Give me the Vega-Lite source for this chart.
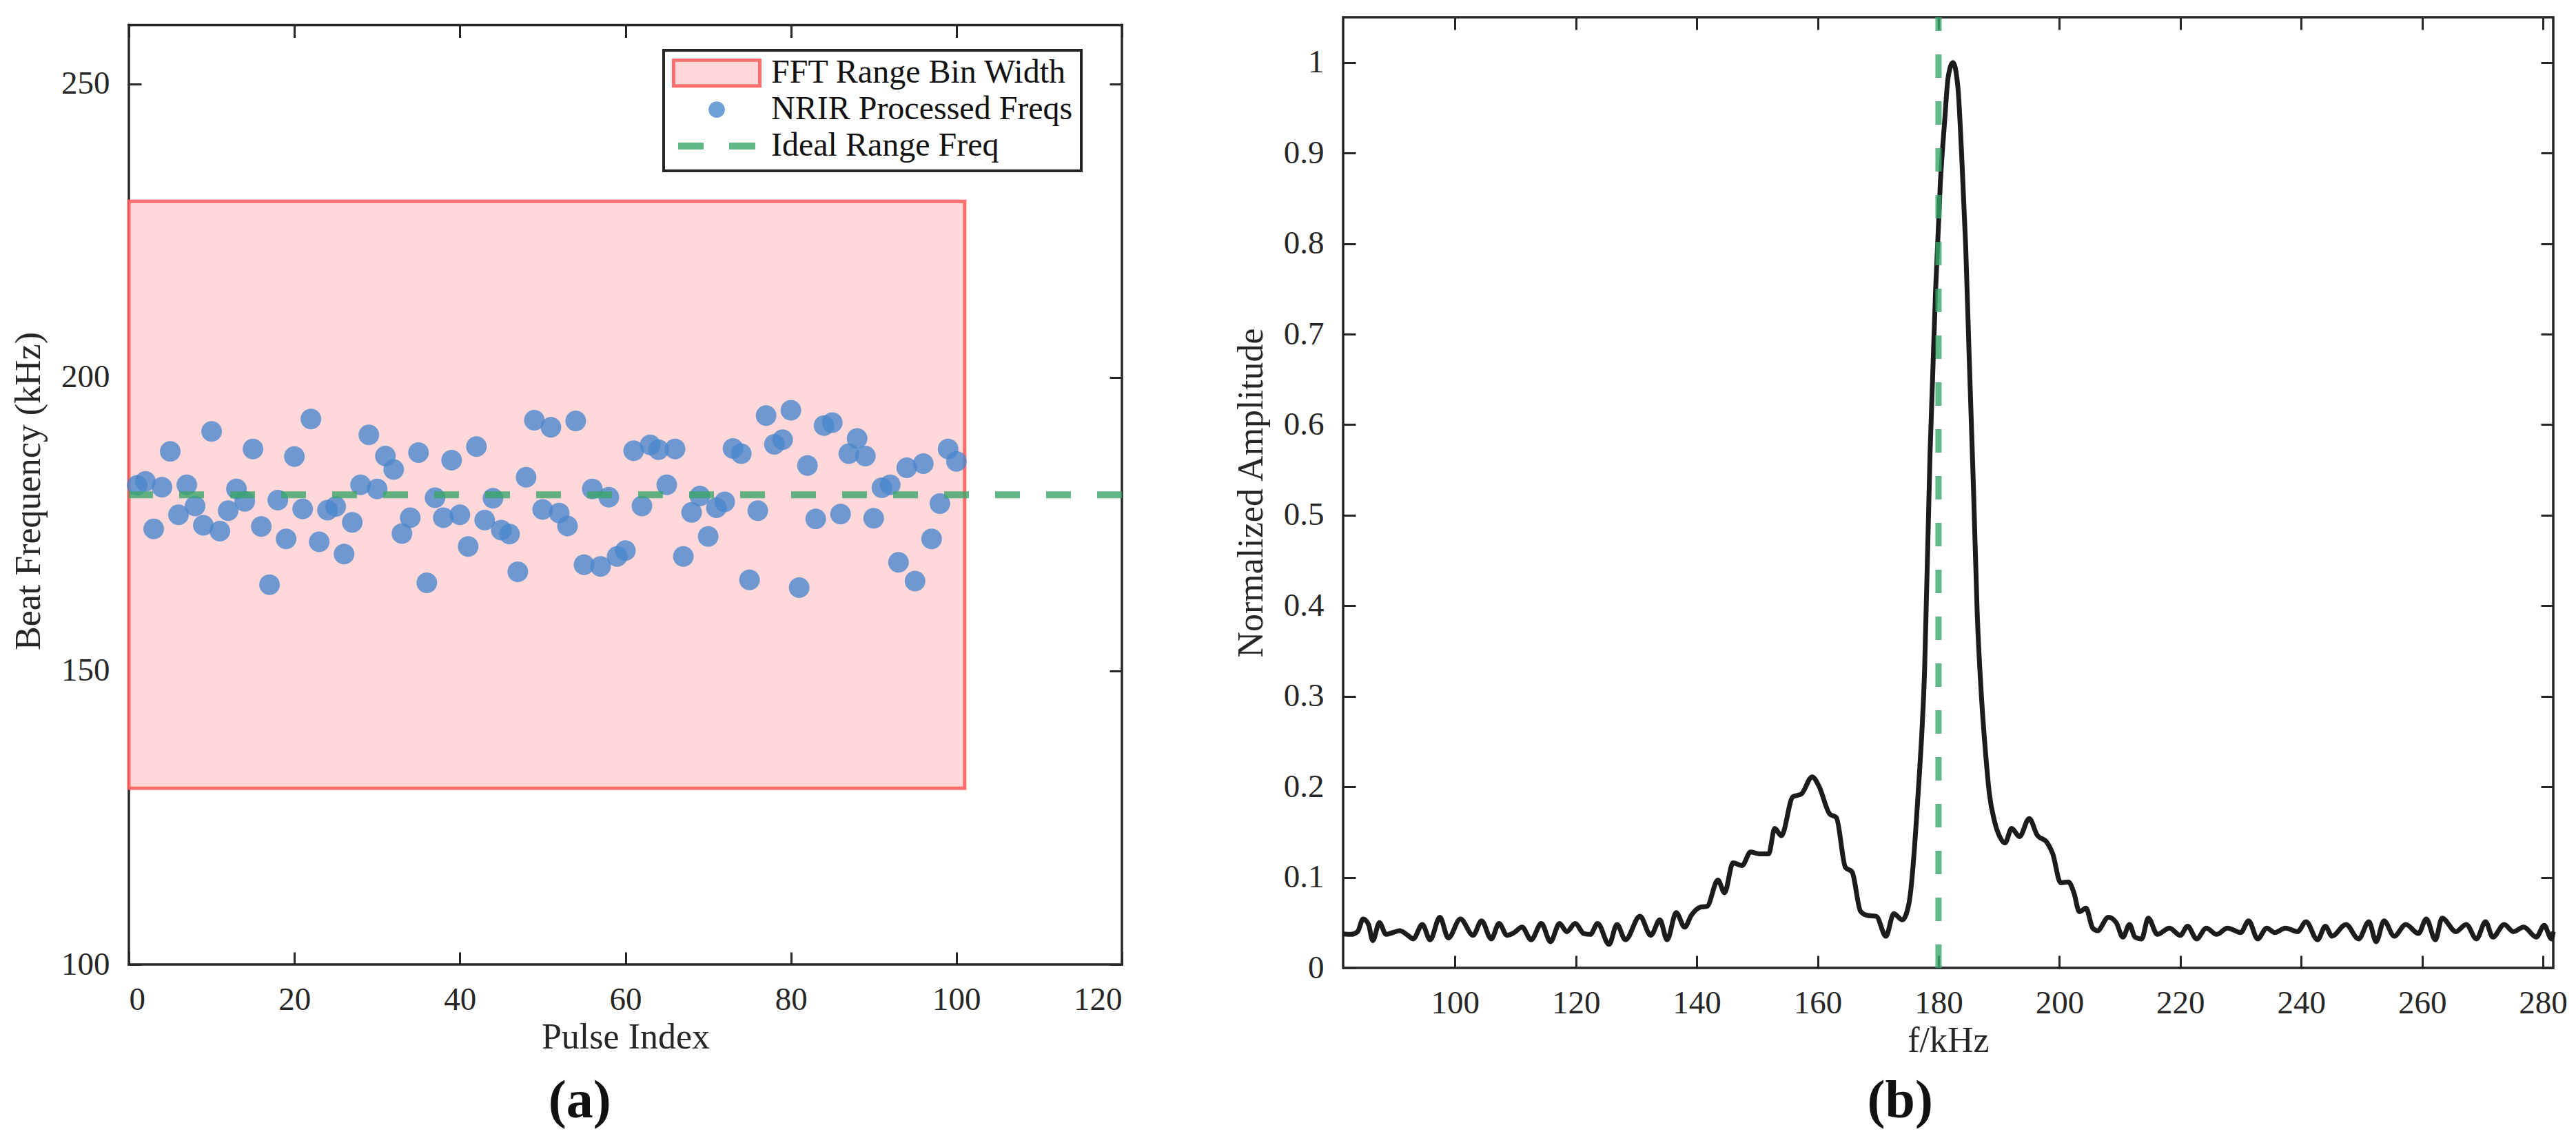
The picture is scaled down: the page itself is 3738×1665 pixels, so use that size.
{
  "$schema": "https://vega.github.io/schema/vega-lite/v6.json",
  "background": "white",
  "padding": {"left": 15, "top": 18, "right": 10, "bottom": 5},
  "spacing": 154,
  "datasets": {
    "pulses": [
      {"pulse": 1, "freq": 181.6}, {"pulse": 2, "freq": 182.3}, {"pulse": 3, "freq": 174.2}, {"pulse": 4, "freq": 181.3},
      {"pulse": 5, "freq": 187.4}, {"pulse": 6, "freq": 176.6}, {"pulse": 7, "freq": 181.7}, {"pulse": 8, "freq": 178.1},
      {"pulse": 9, "freq": 174.8}, {"pulse": 10, "freq": 190.8}, {"pulse": 11, "freq": 173.8}, {"pulse": 12, "freq": 177.3},
      {"pulse": 13, "freq": 181.0}, {"pulse": 14, "freq": 178.9}, {"pulse": 15, "freq": 187.8}, {"pulse": 16, "freq": 174.6},
      {"pulse": 17, "freq": 164.7}, {"pulse": 18, "freq": 179.1}, {"pulse": 19, "freq": 172.5}, {"pulse": 20, "freq": 186.5},
      {"pulse": 21, "freq": 177.6}, {"pulse": 22, "freq": 192.9}, {"pulse": 23, "freq": 172.0}, {"pulse": 24, "freq": 177.4},
      {"pulse": 25, "freq": 178.0}, {"pulse": 26, "freq": 169.9}, {"pulse": 27, "freq": 175.3}, {"pulse": 28, "freq": 181.7},
      {"pulse": 29, "freq": 190.2}, {"pulse": 30, "freq": 181.0}, {"pulse": 31, "freq": 186.6}, {"pulse": 32, "freq": 184.3},
      {"pulse": 33, "freq": 173.4}, {"pulse": 34, "freq": 176.1}, {"pulse": 35, "freq": 187.2}, {"pulse": 36, "freq": 165.0},
      {"pulse": 37, "freq": 179.5}, {"pulse": 38, "freq": 176.1}, {"pulse": 39, "freq": 185.9}, {"pulse": 40, "freq": 176.6},
      {"pulse": 41, "freq": 171.2}, {"pulse": 42, "freq": 188.2}, {"pulse": 43, "freq": 175.7}, {"pulse": 44, "freq": 179.4},
      {"pulse": 45, "freq": 174.0}, {"pulse": 46, "freq": 173.3}, {"pulse": 47, "freq": 166.9}, {"pulse": 48, "freq": 183.0},
      {"pulse": 49, "freq": 192.7}, {"pulse": 50, "freq": 177.5}, {"pulse": 51, "freq": 191.5}, {"pulse": 52, "freq": 176.9},
      {"pulse": 53, "freq": 174.7}, {"pulse": 54, "freq": 192.6}, {"pulse": 55, "freq": 168.1}, {"pulse": 56, "freq": 181.0},
      {"pulse": 57, "freq": 167.8}, {"pulse": 58, "freq": 179.6}, {"pulse": 59, "freq": 169.5}, {"pulse": 60, "freq": 170.5},
      {"pulse": 61, "freq": 187.5}, {"pulse": 62, "freq": 178.1}, {"pulse": 63, "freq": 188.5}, {"pulse": 64, "freq": 187.7},
      {"pulse": 65, "freq": 181.7}, {"pulse": 66, "freq": 187.8}, {"pulse": 67, "freq": 169.5}, {"pulse": 68, "freq": 177.0},
      {"pulse": 69, "freq": 179.8}, {"pulse": 70, "freq": 172.9}, {"pulse": 71, "freq": 177.8}, {"pulse": 72, "freq": 178.8},
      {"pulse": 73, "freq": 187.9}, {"pulse": 74, "freq": 187.0}, {"pulse": 75, "freq": 165.5}, {"pulse": 76, "freq": 177.3},
      {"pulse": 77, "freq": 193.5}, {"pulse": 78, "freq": 188.6}, {"pulse": 79, "freq": 189.4}, {"pulse": 80, "freq": 194.4},
      {"pulse": 81, "freq": 164.2}, {"pulse": 82, "freq": 185.0}, {"pulse": 83, "freq": 175.9}, {"pulse": 84, "freq": 191.8},
      {"pulse": 85, "freq": 192.3}, {"pulse": 86, "freq": 176.7}, {"pulse": 87, "freq": 187.0}, {"pulse": 88, "freq": 189.6},
      {"pulse": 89, "freq": 186.6}, {"pulse": 90, "freq": 176.0}, {"pulse": 91, "freq": 181.2}, {"pulse": 92, "freq": 181.7},
      {"pulse": 93, "freq": 168.5}, {"pulse": 94, "freq": 184.6}, {"pulse": 95, "freq": 165.3}, {"pulse": 96, "freq": 185.3},
      {"pulse": 97, "freq": 172.5}, {"pulse": 98, "freq": 178.5}, {"pulse": 99, "freq": 187.8}, {"pulse": 100, "freq": 185.7}
    ],
    "spectrum": [
      {"f": 81.5, "amp": 0.0375}, {"f": 82.8, "amp": 0.037}, {"f": 83.9, "amp": 0.040}, {"f": 84.8, "amp": 0.054},
      {"f": 85.7, "amp": 0.048}, {"f": 86.4, "amp": 0.030}, {"f": 87.5, "amp": 0.050}, {"f": 88.6, "amp": 0.037},
      {"f": 89.7, "amp": 0.039}, {"f": 90.9, "amp": 0.041}, {"f": 92.2, "amp": 0.036}, {"f": 93.1, "amp": 0.032},
      {"f": 94.6, "amp": 0.048}, {"f": 95.9, "amp": 0.031}, {"f": 97.5, "amp": 0.056}, {"f": 98.9, "amp": 0.033},
      {"f": 100.9, "amp": 0.054}, {"f": 103.0, "amp": 0.036}, {"f": 104.4, "amp": 0.052}, {"f": 106.0, "amp": 0.032},
      {"f": 107.3, "amp": 0.049}, {"f": 108.6, "amp": 0.036}, {"f": 109.8, "amp": 0.039}, {"f": 111.1, "amp": 0.045},
      {"f": 112.6, "amp": 0.031}, {"f": 114.3, "amp": 0.049}, {"f": 115.8, "amp": 0.029}, {"f": 117.3, "amp": 0.049},
      {"f": 118.5, "amp": 0.040}, {"f": 119.9, "amp": 0.049}, {"f": 121.3, "amp": 0.038}, {"f": 122.4, "amp": 0.037},
      {"f": 123.6, "amp": 0.049}, {"f": 125.5, "amp": 0.026}, {"f": 126.8, "amp": 0.048}, {"f": 128.2, "amp": 0.031},
      {"f": 130.6, "amp": 0.057}, {"f": 132.4, "amp": 0.036}, {"f": 133.9, "amp": 0.053}, {"f": 135.1, "amp": 0.031},
      {"f": 136.6, "amp": 0.061}, {"f": 138.0, "amp": 0.045}, {"f": 139.1, "amp": 0.058}, {"f": 140.6, "amp": 0.067},
      {"f": 141.7, "amp": 0.068}, {"f": 143.5, "amp": 0.097}, {"f": 144.6, "amp": 0.083}, {"f": 146.0, "amp": 0.116},
      {"f": 147.5, "amp": 0.113}, {"f": 148.9, "amp": 0.128}, {"f": 150.4, "amp": 0.126}, {"f": 151.9, "amp": 0.126},
      {"f": 152.9, "amp": 0.154}, {"f": 154.0, "amp": 0.146}, {"f": 155.9, "amp": 0.189}, {"f": 157.3, "amp": 0.192},
      {"f": 159.1, "amp": 0.211}, {"f": 160.2, "amp": 0.201}, {"f": 162.0, "amp": 0.170}, {"f": 163.1, "amp": 0.166},
      {"f": 164.6, "amp": 0.111}, {"f": 165.7, "amp": 0.106}, {"f": 167.1, "amp": 0.0625}, {"f": 168.2, "amp": 0.058},
      {"f": 169.7, "amp": 0.057}, {"f": 171.3, "amp": 0.035}, {"f": 172.6, "amp": 0.060}, {"f": 174.0, "amp": 0.053},
      {"f": 175.1, "amp": 0.071}, {"f": 176.6, "amp": 0.19}, {"f": 177.7, "amp": 0.33}, {"f": 178.6, "amp": 0.569},
      {"f": 179.5, "amp": 0.746}, {"f": 180.3, "amp": 0.867}, {"f": 181.0, "amp": 0.934}, {"f": 181.6, "amp": 0.984},
      {"f": 182.4, "amp": 1.0}, {"f": 183.2, "amp": 0.973}, {"f": 183.8, "amp": 0.902}, {"f": 184.5, "amp": 0.796},
      {"f": 185.1, "amp": 0.669}, {"f": 185.8, "amp": 0.526}, {"f": 186.4, "amp": 0.392}, {"f": 187.1, "amp": 0.300},
      {"f": 187.8, "amp": 0.236}, {"f": 188.4, "amp": 0.193}, {"f": 189.3, "amp": 0.161}, {"f": 190.2, "amp": 0.144},
      {"f": 191.0, "amp": 0.138}, {"f": 192.1, "amp": 0.154}, {"f": 193.4, "amp": 0.145}, {"f": 195.0, "amp": 0.165},
      {"f": 196.3, "amp": 0.147}, {"f": 198.0, "amp": 0.138}, {"f": 198.9, "amp": 0.126}, {"f": 200.2, "amp": 0.094},
      {"f": 201.5, "amp": 0.095}, {"f": 202.4, "amp": 0.083}, {"f": 203.3, "amp": 0.062}, {"f": 204.4, "amp": 0.066},
      {"f": 205.5, "amp": 0.044}, {"f": 206.3, "amp": 0.041}, {"f": 208.1, "amp": 0.056}, {"f": 209.4, "amp": 0.050},
      {"f": 210.5, "amp": 0.034}, {"f": 211.6, "amp": 0.048}, {"f": 212.5, "amp": 0.034}, {"f": 213.6, "amp": 0.032},
      {"f": 214.7, "amp": 0.055}, {"f": 216.2, "amp": 0.037}, {"f": 218.2, "amp": 0.044}, {"f": 220.0, "amp": 0.036},
      {"f": 221.2, "amp": 0.046}, {"f": 222.7, "amp": 0.032}, {"f": 224.3, "amp": 0.044}, {"f": 226.0, "amp": 0.037},
      {"f": 227.8, "amp": 0.044}, {"f": 230.0, "amp": 0.039}, {"f": 231.3, "amp": 0.052}, {"f": 232.8, "amp": 0.032},
      {"f": 234.3, "amp": 0.044}, {"f": 235.6, "amp": 0.039}, {"f": 237.4, "amp": 0.044}, {"f": 239.4, "amp": 0.040},
      {"f": 240.8, "amp": 0.051}, {"f": 242.7, "amp": 0.031}, {"f": 244.0, "amp": 0.046}, {"f": 245.1, "amp": 0.035},
      {"f": 247.4, "amp": 0.048}, {"f": 249.5, "amp": 0.032}, {"f": 251.2, "amp": 0.051}, {"f": 252.4, "amp": 0.029},
      {"f": 253.7, "amp": 0.052}, {"f": 255.4, "amp": 0.035}, {"f": 257.3, "amp": 0.048}, {"f": 259.4, "amp": 0.038},
      {"f": 260.7, "amp": 0.054}, {"f": 262.2, "amp": 0.031}, {"f": 263.3, "amp": 0.055}, {"f": 265.6, "amp": 0.040},
      {"f": 267.3, "amp": 0.048}, {"f": 269.0, "amp": 0.032}, {"f": 270.5, "amp": 0.051}, {"f": 271.7, "amp": 0.034},
      {"f": 273.6, "amp": 0.048}, {"f": 275.1, "amp": 0.040}, {"f": 276.8, "amp": 0.045}, {"f": 278.9, "amp": 0.034},
      {"f": 280.2, "amp": 0.047}, {"f": 281.4, "amp": 0.032}, {"f": 281.7, "amp": 0.040}
    ]
  },
  "hconcat": [
    {
      "width": 1441,
      "height": 1375,
      "view": {"stroke": null},
      "title": {"text": "(a)", "orient": "bottom", "offset": 29, "frame": "bounds", "dx": 17,
                "font": "Liberation Serif", "fontSize": 78, "fontWeight": "bold", "color": "#111111"},
      "resolve": {"axis": {"x": "independent", "y": "independent"}},
      "layer": [
        {
          "data": {"values": [{}]},
          "mark": {"type": "rule", "color": "#262626", "strokeWidth": 3.5, "strokeCap": "square"},
          "encoding": {
            "x": {"datum": 0, "type": "quantitative", "axis": null},
            "y": {"datum": 100, "type": "quantitative", "axis": null},
            "y2": {"datum": 260}
          }
        },
        {
          "data": {"values": [{}]},
          "mark": {"type": "rule", "color": "#262626", "strokeWidth": 3.5, "strokeCap": "square"},
          "encoding": {
            "x": {"datum": 120, "type": "quantitative", "axis": null},
            "y": {"datum": 100, "type": "quantitative", "axis": null},
            "y2": {"datum": 260}
          }
        },
        {
          "data": {"values": [{}]},
          "mark": {"type": "rule", "color": "#262626", "strokeWidth": 3.5, "strokeCap": "square"},
          "encoding": {
            "y": {"datum": 260, "type": "quantitative", "axis": null},
            "x": {"datum": 0, "type": "quantitative", "axis": null},
            "x2": {"datum": 120}
          }
        },
        {
          "data": {"values": [{}]},
          "mark": {"type": "rule", "color": "#262626", "strokeWidth": 3.5, "strokeCap": "square"},
          "encoding": {
            "y": {"datum": 100, "type": "quantitative", "axis": null},
            "x": {"datum": 0, "type": "quantitative", "axis": null},
            "x2": {"datum": 120}
          }
        },
        {
          "data": {"values": [{"pulse_lo": 0, "pulse_hi": 101, "freq_lo": 130, "freq_hi": 230}]},
          "mark": {"type": "rect", "strokeWidth": 5},
          "encoding": {
            "x": {"field": "pulse_lo", "type": "quantitative", "title": "Pulse Index",
                  "scale": {"domain": [0, 120], "nice": false, "zero": false},
                  "axis": {"values": [0, 20, 40, 60, 80, 100, 120], "orient": "bottom", "titlePadding": 6,
                           "labelFont": "Liberation Serif", "titleFont": "Liberation Serif"}},
            "x2": {"field": "pulse_hi"},
            "y": {"field": "freq_lo", "type": "quantitative", "title": "Beat Frequency (kHz)",
                  "scale": {"domain": [100, 261.35], "nice": false, "zero": false},
                  "axis": {"values": [100, 150, 200, 250], "orient": "left", "titlePadding": 20,
                           "labelFont": "Liberation Serif", "titleFont": "Liberation Serif"}},
            "y2": {"field": "freq_hi"},
            "fill": {"datum": "FFT Range Bin Width", "type": "nominal",
                     "scale": {"domain": ["FFT Range Bin Width", "NRIR Processed Freqs", "Ideal Range Freq"],
                               "range": ["#ffd9da", "rgba(74,135,204,0.8)", "rgba(58,165,102,0.8)"]},
                     "legend": {"title": null, "orient": "none", "legendX": 776, "legendY": 48, "direction": "vertical",
                                "labelFont": "Liberation Serif", "labelFontSize": 48, "labelColor": "#111111", "labelLimit": 1000,
                                "symbolSize": 15625, "clipHeight": 42, "rowPadding": 5, "padding": 12, "labelOffset": 14,
                                "symbolStrokeWidth": 5, "symbolOpacity": 1, "strokeColor": "#262626", "fillColor": "white"}},
            "stroke": {"datum": "FFT Range Bin Width", "type": "nominal",
                       "scale": {"domain": ["FFT Range Bin Width", "NRIR Processed Freqs", "Ideal Range Freq"],
                                 "range": ["rgba(255,95,95,0.9)", "transparent", "transparent"]},
                       "legend": {"title": null, "orient": "none", "legendX": 776, "legendY": 48, "direction": "vertical",
                                  "labelFont": "Liberation Serif", "labelFontSize": 48, "labelColor": "#111111", "labelLimit": 1000,
                                  "symbolSize": 15625, "clipHeight": 42, "rowPadding": 5, "padding": 12, "labelOffset": 14,
                                  "symbolStrokeWidth": 5, "symbolOpacity": 1, "strokeColor": "#262626", "fillColor": "white"}}
          }
        },
        {
          "data": {"name": "pulses"},
          "mark": {"type": "point", "filled": true, "size": 24930, "strokeWidth": 0, "opacity": 1},
          "encoding": {
            "x": {"field": "pulse", "type": "quantitative",
                  "axis": {"orient": "top", "offset": -11.5, "labels": false, "title": null, "values": [0, 20, 40, 60, 80, 100, 120]}},
            "y": {"field": "freq", "type": "quantitative",
                  "axis": {"orient": "right", "labels": false, "title": null, "values": [100, 150, 200, 250]}},
            "fill": {"datum": "NRIR Processed Freqs", "type": "nominal",
                     "scale": {"domain": ["FFT Range Bin Width", "NRIR Processed Freqs", "Ideal Range Freq"],
                               "range": ["#ffd9da", "rgba(74,135,204,0.8)", "rgba(58,165,102,0.8)"]},
                     "legend": {"title": null, "orient": "none", "legendX": 776, "legendY": 48, "direction": "vertical",
                                "labelFont": "Liberation Serif", "labelFontSize": 48, "labelColor": "#111111", "labelLimit": 1000,
                                "symbolSize": 15625, "clipHeight": 42, "rowPadding": 5, "padding": 12, "labelOffset": 14,
                                "symbolStrokeWidth": 5, "symbolOpacity": 1, "strokeColor": "#262626", "fillColor": "white"}},
            "shape": {"datum": "NRIR Processed Freqs", "type": "nominal",
                      "scale": {"domain": ["FFT Range Bin Width", "NRIR Processed Freqs", "Ideal Range Freq"],
                                "range": ["M-1,-0.3H1V0.3H-1Z",
                                          "M-0.19,0A0.19,0.19 0 1,0 0.19,0A0.19,0.19 0 1,0 -0.19,0Z",
                                          "M-0.896,-0.08H-0.304V0.08H-0.896Z M0.288,-0.08H0.896V0.08H0.288Z"]},
                      "legend": {"title": null, "orient": "none", "legendX": 776, "legendY": 48, "direction": "vertical",
                                 "labelFont": "Liberation Serif", "labelFontSize": 48, "labelColor": "#111111", "labelLimit": 1000,
                                 "symbolSize": 15625, "clipHeight": 42, "rowPadding": 5, "padding": 12, "labelOffset": 14,
                                 "symbolStrokeWidth": 5, "symbolOpacity": 1, "strokeColor": "#262626", "fillColor": "white"}}
          }
        },
        {
          "data": {"values": [{"ideal": 180}]},
          "mark": {"type": "rule", "color": "rgba(58,165,102,0.8)", "strokeWidth": 10, "strokeDash": [36, 38]},
          "encoding": {
            "y": {"field": "ideal", "type": "quantitative", "axis": null}
          }
        }
      ]
    },
    {
      "width": 1756,
      "height": 1380,
      "title": {"text": "(b)", "orient": "bottom", "offset": 24, "frame": "bounds", "dx": 0,
                "font": "Liberation Serif", "fontSize": 78, "fontWeight": "bold", "color": "#111111"},
      "resolve": {"axis": {"x": "independent", "y": "independent"}},
      "layer": [
        {
          "data": {"name": "spectrum"},
          "mark": {"type": "line", "color": "#1c1c1c", "strokeWidth": 7, "interpolate": "monotone"},
          "encoding": {
            "x": {"field": "f", "type": "quantitative", "title": "f/kHz",
                  "scale": {"domain": [81.5, 281.7], "nice": false, "zero": false},
                  "axis": {"values": [100, 120, 140, 160, 180, 200, 220, 240, 260, 280], "orient": "bottom", "titlePadding": 6,
                           "labelFont": "Liberation Serif", "titleFont": "Liberation Serif"}},
            "y": {"field": "amp", "type": "quantitative", "title": "Normalized Amplitude",
                  "scale": {"domain": [0, 1.05], "nice": false},
                  "axis": {"values": [0, 0.1, 0.2, 0.3, 0.4, 0.5, 0.6, 0.7, 0.8, 0.9, 1], "format": ".2~f", "orient": "left",
                           "titlePadding": 20, "labelFont": "Liberation Serif", "titleFont": "Liberation Serif"}}
          }
        },
        {
          "data": {"values": [{"ideal": 180}]},
          "mark": {"type": "rule", "color": "rgba(58,165,102,0.8)", "strokeWidth": 9, "strokeDash": [34, 34]},
          "encoding": {
            "x": {"field": "ideal", "type": "quantitative",
                  "axis": {"orient": "top", "labels": false, "title": null, "values": [100, 120, 140, 160, 180, 200, 220, 240, 260, 280]}},
            "y": {"datum": 0, "type": "quantitative",
                  "axis": {"orient": "right", "labels": false, "title": null, "values": [0, 0.1, 0.2, 0.3, 0.4, 0.5, 0.6, 0.7, 0.8, 0.9, 1]}},
            "y2": {"datum": 1.05}
          }
        }
      ]
    }
  ],
  "config": {
    "font": "Liberation Serif",
    "view": {"stroke": "#262626", "strokeWidth": 3.5},
    "style": {
      "guide-label": {"font": "Liberation Serif"},
      "guide-title": {"font": "Liberation Serif"}
    },
    "axis": {
      "labelFont": "Liberation Serif", "labelFontSize": 47, "labelColor": "#262626",
      "titleFont": "Liberation Serif", "titleFontSize": 52, "titleFontWeight": "normal", "titleColor": "#262626",
      "domain": false, "grid": false, "tickColor": "#262626", "tickWidth": 3, "tickSize": -18,
      "labelPadding": 46
    },
    "legend": {"labelFont": "Liberation Serif", "strokeWidth": 4},
    "title": {"font": "Liberation Serif"}
  }
}
